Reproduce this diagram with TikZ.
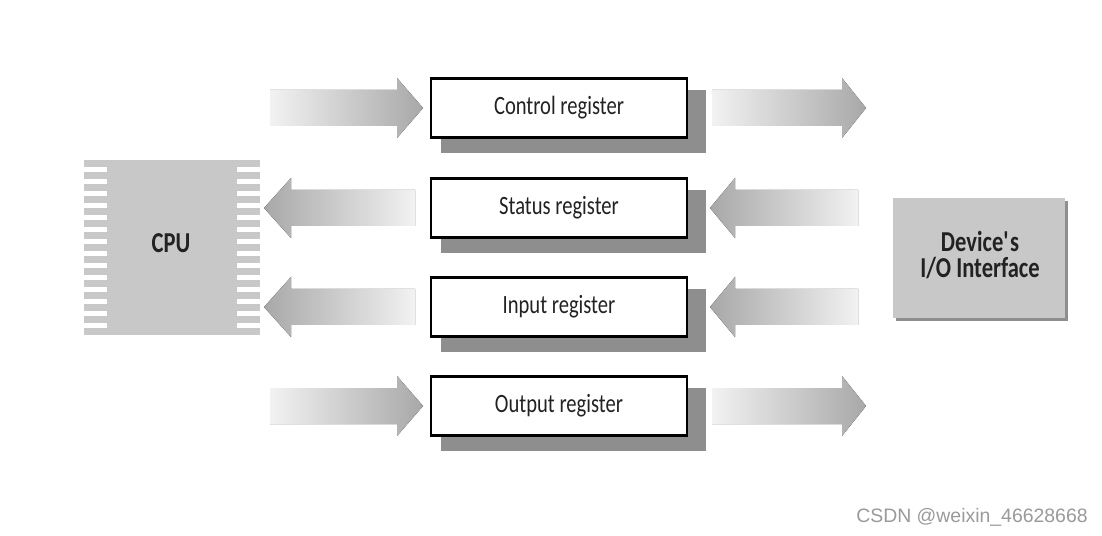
\documentclass[tikz,border=0pt]{standalone}
\usepackage{fontspec}
\setmainfont{Carlito}[FakeStretch=0.78]
\newfontfamily\wmfont{Liberation Sans}
\definecolor{txt}{HTML}{222222}
\definecolor{cpugray}{HTML}{C8C8C8}
\definecolor{shadowgray}{HTML}{8E8E8E}
\definecolor{arrowlight}{HTML}{F2F2F2}
\definecolor{arrowdark}{HTML}{A8A8A8}
\definecolor{wm}{HTML}{9A9A9A}
\tikzset{
  regbox/.style={draw=black, line width=2.6bp, fill=white, minimum width=256bp, minimum height=59bp, inner sep=0pt, font=\fontsize{26.5}{28}\selectfont, text=txt},
  regshadow/.style={fill=shadowgray},
  rarrow/.style={left color=arrowlight, right color=arrowdark},
  larrow/.style={left color=arrowdark, right color=arrowlight},
  boldlabel/.style={font=\bfseries\fontsize{29}{30}\selectfont, text=txt, align=center},
}
\newcommand\RArrow[4]{% tail x, tip x, center y, head base x
  \fill[rarrow] (#1,#3-18) -- (#4,#3-18) -- (#4,#3-30) -- (#2,#3) -- (#4,#3+30) -- (#4,#3+18) -- (#1,#3+18) -- cycle;}
\newcommand\LArrow[4]{% tail x, tip x, center y, head base x
  \fill[larrow] (#1,#3-18) -- (#4,#3-18) -- (#4,#3-30) -- (#2,#3) -- (#4,#3+30) -- (#4,#3+18) -- (#1,#3+18) -- cycle;}
\begin{document}
\begin{tikzpicture}[x=1bp,y=-1bp]
\useasboundingbox[fill=white] (0,0) rectangle (1102,536);

% CPU
\fill[cpugray] (107,160) rectangle (237,334);
\foreach \k in {0,...,14}{
  \fill[cpugray] (84,{160+12*\k}) rectangle (260,{167+12*\k});
}
\node[boldlabel] (cpu) at (171,243) {CPU};

% Device
\fill[shadowgray] (896,201) rectangle (1068,321);
\fill[cpugray] (893,198) rectangle (1065,318);
\node[boldlabel, font=\bfseries\fontsize{29}{27}\selectfont] (dev) at (980,255) {Device\textquotesingle s\\I/O Interface};

% register shadows
\foreach \y in {108,208,307,406}{
  \fill[regshadow] (441,\y-18) rectangle (706,\y+45);
}
% registers
\node[regbox] (ctrl) at (559,108) {Control register};
\node[regbox] (stat) at (559,208) {Status register};
\node[regbox] (inp) at (559,307) {Input register};
\node[regbox] (outp) at (559,406) {Output register};

% arrows
\RArrow{270}{423}{108}{397}
\RArrow{712}{866}{108}{842}
\LArrow{415}{264}{208}{291}
\LArrow{858}{710}{208}{735}
\LArrow{415}{264}{307}{291}
\LArrow{858}{710}{307}{735}
\RArrow{270}{423}{406}{397}
\RArrow{712}{866}{406}{842}

% watermark
\node[font=\wmfont\fontsize{19.5}{21}\selectfont, text=wm] (wmk) at (972,517) {CSDN @weixin\_46628668};
\end{tikzpicture}
\end{document}
